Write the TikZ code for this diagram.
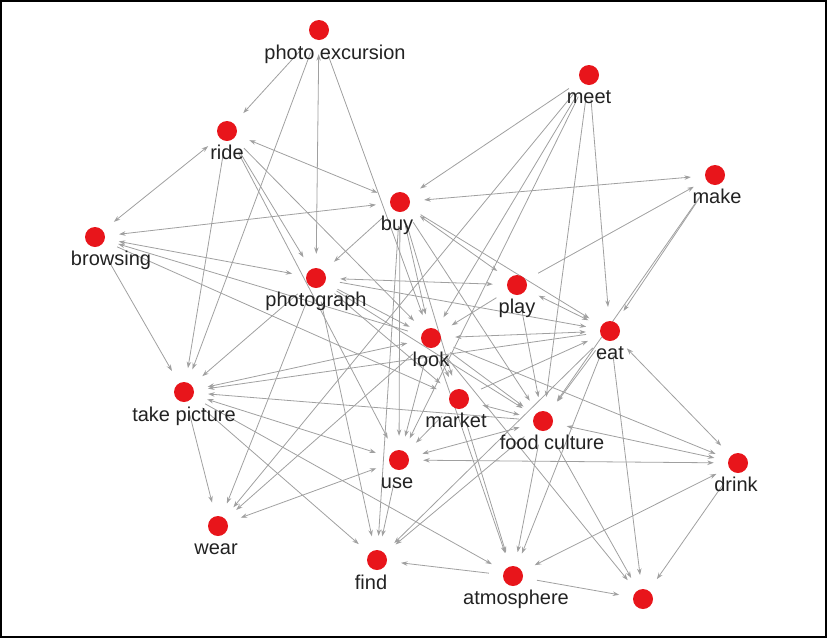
\documentclass[tikz,border=0pt]{standalone}
\usepackage{fontspec}
\setmainfont{Liberation Sans}
\definecolor{dotRed}{HTML}{E8151B}
\definecolor{edgeGray}{HTML}{A0A0A0}
\definecolor{labelInk}{HTML}{222222}
\usetikzlibrary{arrows.meta}
\pgfdeclarelayer{edges}
\pgfsetlayers{edges,main}

\begin{document}
\begin{tikzpicture}[x=1pt, y=-1pt,
  dot/.style={circle, fill=dotRed, inner sep=0pt, minimum size=20pt},
  lbl/.style={anchor=base, text=labelInk, font=\fontsize{20}{24}\selectfont, inner sep=0pt},
  arr/.style={-{Stealth[length=6.5pt, width=4.5pt]}, draw=edgeGray, line width=0.8pt,
              shorten >=14pt, shorten <=14pt},
  biarr/.style={arr, {Stealth[length=6.5pt, width=4.5pt]}-{Stealth[length=6.5pt, width=4.5pt]}}
]
\useasboundingbox (0,0) rectangle (827,638);
\draw[line width=2pt] (1,1) rectangle (826,637);

% word nodes
\node[dot] (pexc)   at (319,30)  {};
\node[dot] (meet)   at (589,75)  {};
\node[dot] (ride)   at (227,131) {};
\node[dot] (make)   at (715,175) {};
\node[dot] (buy)    at (400,202) {};
\node[dot] (brows)  at (95,237)  {};
\node[dot] (photo)  at (316,278) {};
\node[dot] (play)   at (517,285) {};
\node[dot] (eat)    at (610,331) {};
\node[dot] (look)   at (431,338) {};
\node[dot] (tpic)   at (184,392) {};
\node[dot] (market) at (459,399) {};
\node[dot] (food)   at (543,421) {};
\node[dot] (drink)  at (738,463) {};
\node[dot] (use)    at (399,460) {};
\node[dot] (wear)   at (218,526) {};
\node[dot] (find)   at (377,560) {};
\node[dot] (atmos)  at (513,576) {};
\node[dot] (blank)  at (643,599) {};

% labels
\node[lbl] (pexc-l)   at ([xshift=16pt, yshift=-29pt]pexc.center) {photo excursion};
\node[lbl] (meet-l)   at ([yshift=-28pt]meet.center)   {meet};
\node[lbl] (ride-l)   at ([yshift=-28pt]ride.center)   {ride};
\node[lbl] (make-l)   at ([xshift=2pt, yshift=-28pt]make.center) {make};
\node[lbl] (buy-l)    at ([xshift=-3pt, yshift=-28pt]buy.center) {buy};
\node[lbl] (brows-l)  at ([xshift=16pt, yshift=-28pt]brows.center) {browsing};
\node[lbl] (photo-l)  at ([yshift=-28pt]photo.center)  {photograph};
\node[lbl] (play-l)   at ([yshift=-28pt]play.center)   {play};
\node[lbl] (eat-l)    at ([yshift=-28pt]eat.center)    {eat};
\node[lbl] (look-l)   at ([yshift=-28pt]look.center)   {look};
\node[lbl] (tpic-l)   at ([yshift=-29pt]tpic.center)   {take picture};
\node[lbl] (market-l) at ([xshift=-3pt, yshift=-28pt]market.center) {market};
\node[lbl] (food-l)   at ([xshift=9pt, yshift=-28pt]food.center) {food culture};
\node[lbl] (drink-l)  at ([xshift=-2pt, yshift=-28pt]drink.center) {drink};
\node[lbl] (use-l)    at ([xshift=-2pt, yshift=-28pt]use.center) {use};
\node[lbl] (wear-l)   at ([xshift=-2pt, yshift=-28pt]wear.center) {wear};
\node[lbl] (find-l)   at ([xshift=-6pt, yshift=-29pt]find.center) {find};
\node[lbl] (atmos-l)  at ([xshift=3pt, yshift=-28pt]atmos.center) {atmosphere};

\begin{pgfonlayer}{edges}
% photo excursion, ride, browsing
\draw[arr]   (pexc)  -- (ride);
\draw[arr]   (pexc)  -- (tpic);
\draw[biarr] (pexc)  -- (photo);
\draw[arr]   (pexc)  -- (look);
\draw[biarr] (ride)  -- (brows);
\draw[arr]   (ride)  -- (tpic);
\draw[biarr] (ride)  -- (buy);
\draw[arr]   (ride)  -- (photo);
\draw[arr]   (ride)  -- (look);
\draw[arr]   (ride)  -- (use);
\draw[biarr] (brows) -- (buy);
\draw[arr]   (brows) -- (tpic);
\draw[biarr] (brows) -- (photo);
\draw[arr]   (look)  -- (brows);
\draw[arr]   (brows) -- (market);
% buy
\draw[arr]   (meet)  -- (buy);
\draw[biarr] (make)  -- (buy);
\draw[arr]   (buy)   -- (photo);
\draw[biarr] (buy)   -- (play);
\draw[arr]   (buy)   -- (look);
\draw[arr]   (buy)   -- (market);
\draw[arr]   (buy)   -- (use);
\draw[arr]   (buy)   -- (find);
\draw[arr]   (buy)   -- (food);
\draw[arr]   (buy)   -- (eat);
% photograph, play
\draw[biarr] (photo) -- (play);
\draw[arr]   (photo) -- (look);
\draw[arr]   (photo) -- (eat);
\draw[arr]   (photo) -- (tpic);
\draw[arr]   (photo) -- (wear);
\draw[arr]   (photo) -- (market);
\draw[arr]   (photo) -- (food);
\draw[arr]   (photo) -- (find);
\draw[arr]   (play)  -- (make);
\draw[biarr] (play)  -- (eat);
\draw[arr]   (play)  -- (look);
\draw[arr]   (play)  -- (food);
% meet, make
\draw[arr]   (meet)  -- (wear);
\draw[arr]   (meet)  -- (look);
\draw[arr]   (meet)  -- (use);
\draw[arr]   (meet)  -- (eat);
\draw[arr]   (meet)  -- (food);
\draw[arr]   (make)  -- (eat);
\draw[arr]   (make)  -- (food);
% eat
\draw[biarr] (look)  -- (eat);
\draw[arr]   (market) -- (eat);
\draw[arr]   (eat)   -- (tpic);
\draw[biarr] (eat)   -- (drink);
\draw[arr]   (eat)   -- (find);
\draw[arr]   (eat)   -- (atmos);
\draw[arr]   (eat)   -- (blank);
\draw[arr]   (eat)   -- (food);
% look
\draw[biarr] (look)  -- (tpic);
\draw[arr]   (look)  -- (wear);
\draw[arr]   (look)  -- (use);
\draw[arr]   (look)  -- (market);
\draw[arr]   (look)  -- (food);
\draw[arr]   (look)  -- (drink);
\draw[arr]   (look)  -- (atmos);
\draw[arr]   (look)  -- (blank);
% take picture, market, food culture
\draw[arr]   (food)  -- (tpic);
\draw[biarr] (tpic)  -- (use);
\draw[arr]   (tpic)  -- (atmos);
\draw[arr]   (tpic)  -- (find);
\draw[arr]   (tpic)  -- (wear);
\draw[biarr] (market) -- (food);
\draw[arr]   (market) -- (use);
\draw[arr]   (market) -- (atmos);
\draw[biarr] (food)  -- (use);
\draw[biarr] (food)  -- (drink);
\draw[arr]   (food)  -- (atmos);
\draw[arr]   (food)  -- (blank);
\draw[arr]   (food)  -- (find);
% drink, use, atmosphere
\draw[biarr] (use)   -- (drink);
\draw[biarr] (drink) -- (atmos);
\draw[arr]   (drink) -- (blank);
\draw[arr]   (use)   -- (find);
\draw[biarr] (use)   -- (wear);
\draw[arr]   (atmos) -- (blank);
\draw[arr]   (atmos) -- (find);
\end{pgfonlayer}
\end{tikzpicture}
\end{document}
